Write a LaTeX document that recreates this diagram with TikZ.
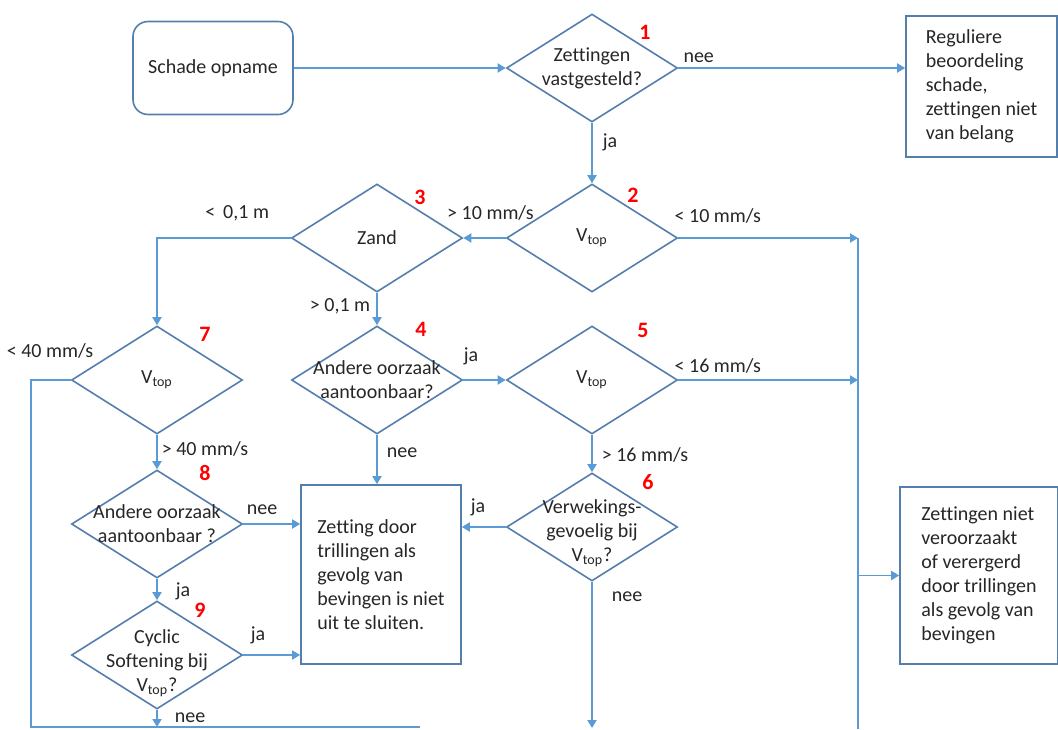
\documentclass[tikz,border=0pt]{standalone}
\usepackage{fontspec}
\setmainfont{Carlito}[Ligatures=NoCommon]
\usetikzlibrary{arrows.meta,shapes.geometric,positioning}
\definecolor{linkblue}{RGB}{91,155,213}
\definecolor{shapeblue}{RGB}{84,126,172}
\definecolor{txt}{RGB}{38,38,38}
\tikzstyle{startstop} = [rectangle, rounded corners=7.5pt, minimum width=80pt, minimum height=46.5pt, draw=shapeblue, line width=0.8pt, text=txt]
\tikzstyle{decision} = [diamond, minimum width=85.5pt, minimum height=54pt, inner sep=0pt, draw=shapeblue, line width=0.8pt]
\tikzstyle{dtext} = [align=center, text=txt, inner sep=0pt]
\tikzstyle{outcome} = [rectangle, align=left, draw=shapeblue, line width=0.8pt, text=txt]
\tikzstyle{num} = [text=red, font=\fontsize{11}{13}\selectfont\bfseries, inner sep=0pt]
\tikzstyle{lbl} = [text=txt, inner sep=0pt]
\tikzstyle{link} = [draw=linkblue, line width=0.9pt]
\tikzstyle{arrow} = [link, -{Triangle[length=4pt,width=4.5pt]}]

\begin{document}
\begin{tikzpicture}[x=0.5pt, y=-0.5pt]
\useasboundingbox (0,0) rectangle (1058,729);

\node (opname) [startstop] at (213,68) {Schade opname};
\node (d1) [decision] at (592,68) {};
\node (d1t) [dtext] at (d1) {Zettingen\\vastgesteld?};
\node (regulier) [outcome, minimum width=75.5pt, minimum height=70.5pt] at (981.5,86.5) {Reguliere\\beoordeling\\schade,\\zettingen niet\\van belang};

\node (d2) [decision, below of=d1, node distance=85pt] {};
\node (d2t) [dtext] at (d2) {V\textsubscript{top}};
\node (d3) [decision, left of=d2, node distance=107.5pt] {};
\node (d3t) [dtext] at (d3) {Zand};
\node (d4) [decision, below of=d3, node distance=71pt] {};
\node (d4t) [dtext] at (d4) {Andere oorzaak\\aantoonbaar?};
\node (d5) [decision, right of=d4, node distance=107.5pt] {};
\node (d5t) [dtext] at (d5) {V\textsubscript{top}};
\node (d6) [decision, below of=d5, node distance=73.5pt] {};
\node (d6t) [dtext] at ([yshift=-3pt]d6) {Verwekings-\\gevoelig bij\\V\textsubscript{top}?};
\node (d7) [decision, left of=d4, node distance=110pt] {};
\node (d7t) [dtext] at (d7) {V\textsubscript{top}};
\node (d8) [decision, below of=d7, node distance=72pt] {};
\node (d8t) [dtext] at (d8) {Andere oorzaak\\aantoonbaar ?};
\node (d9) [decision, below of=d8, node distance=65.5pt] {};
\node (d9t) [dtext] at ([yshift=-4pt]d9) {Cyclic\\Softening bij\\V\textsubscript{top}?};

\node (zetting) [outcome, minimum width=80pt, minimum height=89.5pt] at (381,574.5) {Zetting door\\trillingen als\\gevolg van\\bevingen is niet\\uit te sluiten.};
\node (niet) [outcome, minimum width=79pt, minimum height=88.5pt] at (979,575.5) {Zettingen niet\\veroorzaakt\\of verergerd\\door trillingen\\als gevolg van\\bevingen};

% step numbers
\node (n1) [num] at ([shift={(53,-36)}]d1) {1};
\node (n2) [num] at ([shift={(41,-43)}]d2) {2};
\node (n3) [num] at ([shift={(43,-41)}]d3) {3};
\node (n4) [num] at ([shift={(44,-51)}]d4) {4};
\node (n5) [num] at ([shift={(51,-50)}]d5) {5};
\node (n6) [num] at ([shift={(56,-45)}]d6) {6};
\node (n7) [num] at ([shift={(48,-46)}]d7) {7};
\node (n8) [num] at ([shift={(48,-51)}]d8) {8};
\node (n9) [num] at ([shift={(43,-45)}]d9) {9};

\coordinate (railtop) at (858,238);
\coordinate (railbot) at (858,729);
\coordinate (leftbot) at (31,727);
\coordinate (bottomend) at (420,727);
\coordinate (d6end) at (592,728);

\draw [arrow] (opname) -- (d1);
\draw [arrow] (d1.east) -- node[lbl, pos=0.09, yshift=5pt] {nee} (d1.east -| regulier.west);
\draw [arrow] (d1) -- node[lbl, pos=0.33, xshift=9pt] {ja} (d2);
\draw [arrow] (d2) -- node[lbl, pos=0.36, yshift=12.5pt] {> 10 mm/s} (d3);
\draw [arrow] (d2.east) -- node[lbl, pos=0.22, yshift=11pt] {< 10 mm/s} (railtop);
\draw [link] (railtop) -- (railbot);
\draw [arrow] (railtop |- niet.west) -- (niet.west);
\draw [arrow] (d3.west) -| node[lbl, pos=0.2, yshift=12.5pt] {<\, 0,1 m} (d7.north);
\draw [arrow] (d3) -- node[lbl, pos=0.42, xshift=-18.5pt] {> 0,1 m} (d4);
\draw [arrow] (d4) -- node[lbl, pos=0.18, yshift=12pt] {ja} (d5);
\draw [arrow] (d5.east) -- node[lbl, pos=0.22, yshift=7pt] {< 16 mm/s} (d5.east -| railtop);
\draw [arrow] (d5) -- node[lbl, pos=0.53, xshift=26.5pt] {> 16 mm/s} (d6);
\draw [arrow] (d4.south) -- node[lbl, pos=0.36, xshift=12.5pt] {nee} (d4.south |- zetting.north);
\draw [arrow] (d6.west) -- node[lbl, pos=0.63, yshift=10pt] {ja} (d6.west -| zetting.east);
\draw [arrow] (d6.south) -- node[lbl, pos=0.1, xshift=17.5pt] {nee} (d6end);
\draw [link] (d7.west) -| node[lbl, pos=0.26, yshift=14.5pt] {< 40 mm/s} (leftbot) -- (bottomend);
\draw [arrow] (d7) -- node[lbl, pos=0.4, xshift=24pt] {> 40 mm/s} (d8);
\draw [arrow] (d8.east) -- node[lbl, pos=0.33, yshift=7pt] {nee} (d8.east -| zetting.west);
\draw [arrow] (d8) -- node[lbl, pos=0.57, xshift=13pt] {ja} (d9);
\draw [arrow] (d9.east) -- node[lbl, pos=0.26, yshift=10pt] {ja} (d9.east -| zetting.west);
\draw [arrow] (d9.south) -- node[lbl, pos=0.45, xshift=16.5pt] {nee} (d9.south |- leftbot);
\end{tikzpicture}
\end{document}
